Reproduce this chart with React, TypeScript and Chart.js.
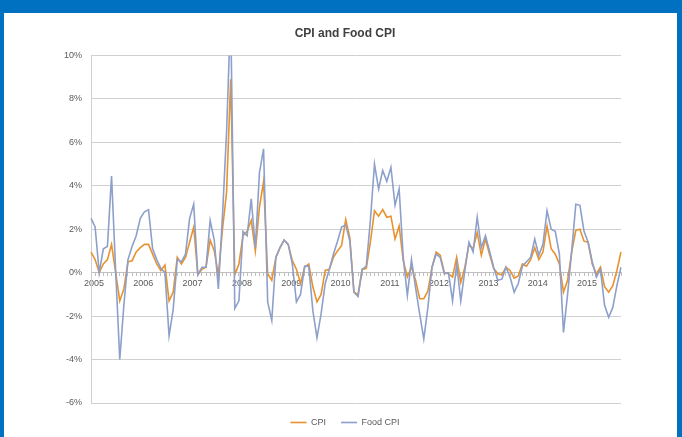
import React, { useEffect, useRef } from "react";
import { Chart, registerables } from "chart.js";

Chart.register(...registerables);

const yearLabels = ["2005", "2006", "2007", "2008", "2009", "2010", "2011", "2012", "2013", "2014", "2015"];
const monthNames = ["01", "02", "03", "04", "05", "06", "07", "08", "09", "10", "11", "12"];

const cpi = [
  0.95, 0.6, 0.0, 0.4, 0.6, 1.3, 0.0, -1.3, -0.75, 0.5, 0.55, 0.95,
  1.15, 1.3, 1.3, 0.85, 0.4, 0.1, 0.35, -1.3, -0.9, 0.7, 0.4, 0.7,
  1.4, 2.1, -0.1, 0.15, 0.25, 1.5, 1.0, -0.1, 2.0, 3.7, 8.9, -0.1,
  0.4, 1.7, 1.9, 2.4, 1.0, 3.0, 4.2, -0.05, -0.35, 0.7, 1.15, 1.5,
  1.3, 0.55, 0.15, -0.5, 0.25, 0.4, -0.65, -1.35, -1.0, 0.1, 0.15, 0.7,
  1.0, 1.25, 2.45, 1.6, -0.9, -1.0, 0.15, 0.2, 1.4, 2.85, 2.6, 2.9,
  2.55, 2.6, 1.55, 2.15, 0.55, -0.2, 0.25, -0.35, -1.2, -1.2, -0.85, 0.25,
  0.95, 0.8, 0.0, -0.05, -0.2, 0.7, -0.45, 0.25, 1.3, 1.1, 1.85, 0.8,
  1.55, 0.85, 0.2, -0.05, -0.1, 0.25, 0.1, -0.25, -0.15, 0.4, 0.3, 0.6,
  1.15, 0.6, 0.95, 2.15, 1.1, 0.85, 0.4, -0.9, -0.35, 0.95, 1.95, 2.0,
  1.45, 1.4, 0.4, -0.05, 0.25, -0.65, -0.9, -0.6, 0.1, 0.95,
];

const foodCpi = [
  2.5, 2.1, 0.0, 1.1, 1.2, 4.45, 0.1, -4.0, -1.5, 0.6, 1.2, 1.7,
  2.5, 2.8, 2.9, 1.1, 0.6, 0.2, 0.0, -2.9, -1.7, 0.6, 0.5, 0.85,
  2.5, 3.15, -0.1, 0.25, 0.25, 2.4, 1.5, -0.75, 2.6, 6.5, 12.0, -1.65,
  -1.3, 1.9, 1.7, 3.4, 1.15, 4.6, 5.7, -1.35, -2.2, 0.7, 1.15, 1.5,
  1.3, 0.4, -1.35, -1.0, 0.3, 0.3, -1.75, -3.0, -1.9, -0.5, 0.15, 0.85,
  1.45, 2.1, 2.2, 1.45, -0.9, -1.1, 0.15, 0.3, 2.4, 5.0, 3.85, 4.7,
  4.2, 4.85, 3.1, 3.85, 0.7, -1.05, 0.6, -0.7, -1.9, -3.05, -1.6, 0.25,
  0.85, 0.7, -0.05, 0.0, -1.3, 0.4, -1.3, 0.1, 1.4, 0.95, 2.55, 1.15,
  1.7, 1.0, 0.25, -0.35, -0.3, 0.25, -0.2, -0.9, -0.5, 0.3, 0.5, 0.7,
  1.55, 0.8, 1.3, 2.85, 2.0, 1.9, 0.85, -2.75, -1.0, 1.0, 3.15, 3.1,
  1.9, 1.4, 0.5, -0.2, 0.15, -1.5, -2.05, -1.6, -0.6, 0.25,
];

const yMin = -6;
const yMax = 10;
const yStep = 2;

const categories: string[] = [];
yearLabels.forEach((y) => monthNames.forEach((m) => categories.push(`${y}-${m}`)));
const labels = categories.slice(0, cpi.length);

export default function App() {
  const ref = useRef<HTMLCanvasElement | null>(null);

  useEffect(() => {
    document.body.style.margin = "0";
    const canvas = ref.current;
    if (!canvas) return;
    Chart.defaults.font.family = "'Liberation Sans', Arial, sans-serif";
    const chart = new Chart(canvas, {
      type: "line",
      data: {
        labels,
        datasets: [
          {
            label: "CPI",
            data: cpi,
            borderColor: "#E8922E",
            backgroundColor: "#E8922E",
            borderWidth: 1.6,
            pointRadius: 0,
            tension: 0,
            order: 1,
          },
          {
            label: "Food CPI",
            data: foodCpi,
            borderColor: "#8D9FCB",
            backgroundColor: "#8D9FCB",
            borderWidth: 1.6,
            pointRadius: 0,
            tension: 0,
            order: 0,
          },
        ],
      },
      options: {
        responsive: false,
        animation: false,
        layout: { padding: { left: 45, right: 36, top: 0, bottom: 6 } },
        plugins: {
          title: {
            display: true,
            text: "CPI and Food CPI",
            color: "#404040",
            font: { size: 12, weight: "bold" },
            padding: { top: 13, bottom: 15 },
          },
          legend: {
            position: "bottom",
            labels: {
              color: "#595959",
              font: { size: 9 },
              usePointStyle: true,
              pointStyle: "line",
              pointStyleWidth: 16,
              padding: 15,
              sort: (a: any, b: any) => a.datasetIndex - b.datasetIndex,
            },
          },
          tooltip: { enabled: false },
        },
        scales: {
          x: {
            type: "category",
            position: { y: 0 },
            grid: {
              drawOnChartArea: false,
              drawTicks: true,
              tickLength: 3,
              color: "#BFBFBF",
            },
            border: { color: "#BFBFBF" },
            ticks: {
              autoSkip: false,
              maxRotation: 0,
              minRotation: 0,
              color: "#595959",
              font: { size: 9 },
              padding: 2,
              labelOffset: 3,
              callback: (value: any, index: number) =>
                index % 12 === 0 ? yearLabels[index / 12] : "",
            },
          },
          y: {
            min: yMin,
            max: yMax,
            afterFit: (scale: any) => {
              scale.width = 42;
            },
            grid: { color: "#D0D0D0", drawTicks: false },
            border: { color: "#D0D0D0" },
            ticks: {
              stepSize: yStep,
              color: "#595959",
              font: { size: 9 },
              padding: 9,
              callback: (v: any) => `${v}%`,
            },
          },
          yRightSpacer: {
            type: "linear",
            position: "right",
            grid: { display: false },
            border: { display: false },
            ticks: { display: false },
            afterFit: (scale: any) => {
              scale.width = 20;
            },
          },
        },
      },
    });
    return () => chart.destroy();
  }, []);

  return (
    <div
      style={{
        position: "fixed",
        left: 0,
        top: 0,
        width: 682,
        height: 437,
        background: "#0070C0",
        overflow: "hidden",
      }}
    >
      <div
        style={{
          position: "absolute",
          left: 4,
          top: 13,
          width: 673,
          height: 430,
          background: "#FFFFFF",
        }}
      >
        <canvas ref={ref} width={673} height={430} style={{ display: "block" }} />
      </div>
    </div>
  );
}
